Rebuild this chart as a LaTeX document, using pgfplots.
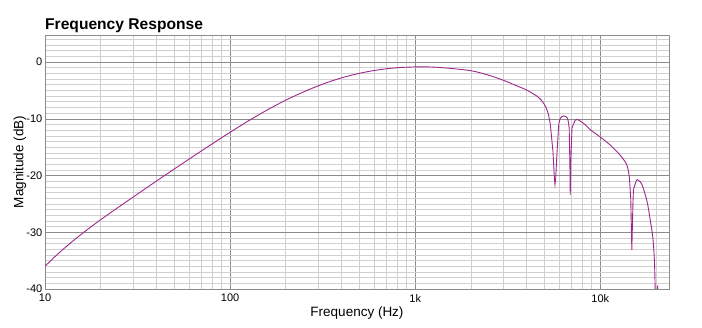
\documentclass[border=0pt]{standalone}
\usepackage{fontspec}
\setmainfont{Liberation Sans}
\usepackage{pgfplots}
\pgfplotsset{compat=1.18}
\definecolor{curve}{RGB}{158,40,140}
\definecolor{majgrid}{RGB}{140,140,140}
\definecolor{mingrid}{RGB}{208,208,208}
\begin{document}
\begin{tikzpicture}[x=1pt,y=1pt]
\path[use as bounding box] (0,0) rectangle (702,328);
\node[anchor=base west, inner sep=0pt, font=\bfseries\fontsize{15.6}{15.6}\selectfont] at (45,298) {Frequency Response};
\begin{axis}[
  at={(45pt,39pt)}, anchor=south west,
  scale only axis, width=624pt, height=254pt,
  xmode=log, xmin=10, xmax=23500, ymin=-40, ymax=4.8,
  xtick={10,100,1000,10000}, xticklabels={10,100,1k,10k},
  ytick={-40,-30,-20,-10,0}, yticklabels={-40,-30,-20,-10,0},
  minor xtick={20,30,40,50,60,70,80,90,200,300,400,500,600,700,800,900,2000,3000,4000,5000,6000,7000,8000,9000,20000},
  minor ytick={-39,-38,...,4},
  grid=both,
  major grid style={majgrid, line width=0.8pt},
  minor grid style={mingrid, line width=0.8pt},
  axis line style={majgrid, line width=0.8pt},
  major tick length=0pt, minor tick length=0pt,
  tick style={draw=none},
  ticklabel style={font=\fontsize{11}{11}\selectfont, text=black},
  yticklabel style={inner sep=0pt, xshift=-2.5pt},
  xticklabel style={inner sep=0pt, yshift=-5pt},
  xlabel={Frequency (Hz)},
  ylabel={Magnitude (dB)},
  label style={font=\fontsize{13.5}{13.5}\selectfont},
  xlabel style={at={(axis description cs:0.5,0)}, anchor=base, inner sep=0pt, yshift=-27.7pt},
  ylabel style={at={(axis description cs:0,0.5)}, anchor=base, inner sep=0pt, yshift=21.7pt},
]
\addplot[curve, line width=0.9pt, smooth, tension=0.5] coordinates {
(10,-36.0) (11.22,-34.41) (12.59,-32.94) (14.13,-31.55) (15.85,-30.25)
(17.78,-29.0) (19.95,-27.8) (22.39,-26.64) (25.12,-25.5) (31.62,-23.25)
(39.81,-21.01) (50.12,-18.8) (63.1,-16.62) (79.43,-14.47) (100,-12.36)
(125.9,-10.33) (158.5,-8.43) (199.5,-6.71) (251.2,-5.19) (316.2,-3.87)
(398.1,-2.78) (501.2,-1.95) (631,-1.35) (794.3,-0.98) (1000,-0.83)
(1122,-0.82) (1259,-0.87) (1500,-1.05) (2000,-1.5) (2500,-2.3) (3000,-3.2)
(3500,-4.1) (4000,-4.9) (4300,-5.5) (4600,-6.1) (4800,-6.7) (5000,-7.5)
(5150,-8.4) (5250,-9.3) (5370,-11)
};
\addplot[curve, line width=0.9pt] coordinates {
(5370,-11) (5550,-15.8) (5650,-20.5) (5690,-21.6) (5740,-20.5) (5840,-15.8)
(5960,-11)
};
\addplot[curve, line width=0.9pt, smooth, tension=0.5] coordinates {
(5960,-11) (6080,-9.9) (6340,-9.47) (6650,-9.9) (6790,-11.6)
};
\addplot[curve, line width=0.9pt] coordinates {
(6790,-11.6) (6850,-18) (6880,-23.4) (6920,-18) (7030,-11.6)
};
\addplot[curve, line width=0.9pt, smooth, tension=0.5] coordinates {
(7030,-11.6) (7330,-10.2) (7520,-10.1) (8130,-10.8) (8830,-11.9)
(10000,-13.2) (11300,-14.6) (12800,-16.4) (13900,-18.1) (14350,-20.2)
};
\addplot[curve, line width=0.9pt] coordinates {
(14350,-20.2) (14600,-24) (14800,-33.1) (15000,-25) (15100,-22.5)
};
\addplot[curve, line width=0.9pt, smooth, tension=0.5] coordinates {
(15100,-22.5) (15700,-20.8) (16150,-20.9)
(16800,-21.6) (17900,-24.6) (18600,-27.8) (19200,-30.8) (19600,-34.9) (19800,-40.5)
};
\addplot[curve, line width=0.9pt] coordinates {
(19800,-40.5) (20100,-42) (20400,-39.4) (20600,-42)
};
\end{axis}
\end{tikzpicture}
\end{document}
